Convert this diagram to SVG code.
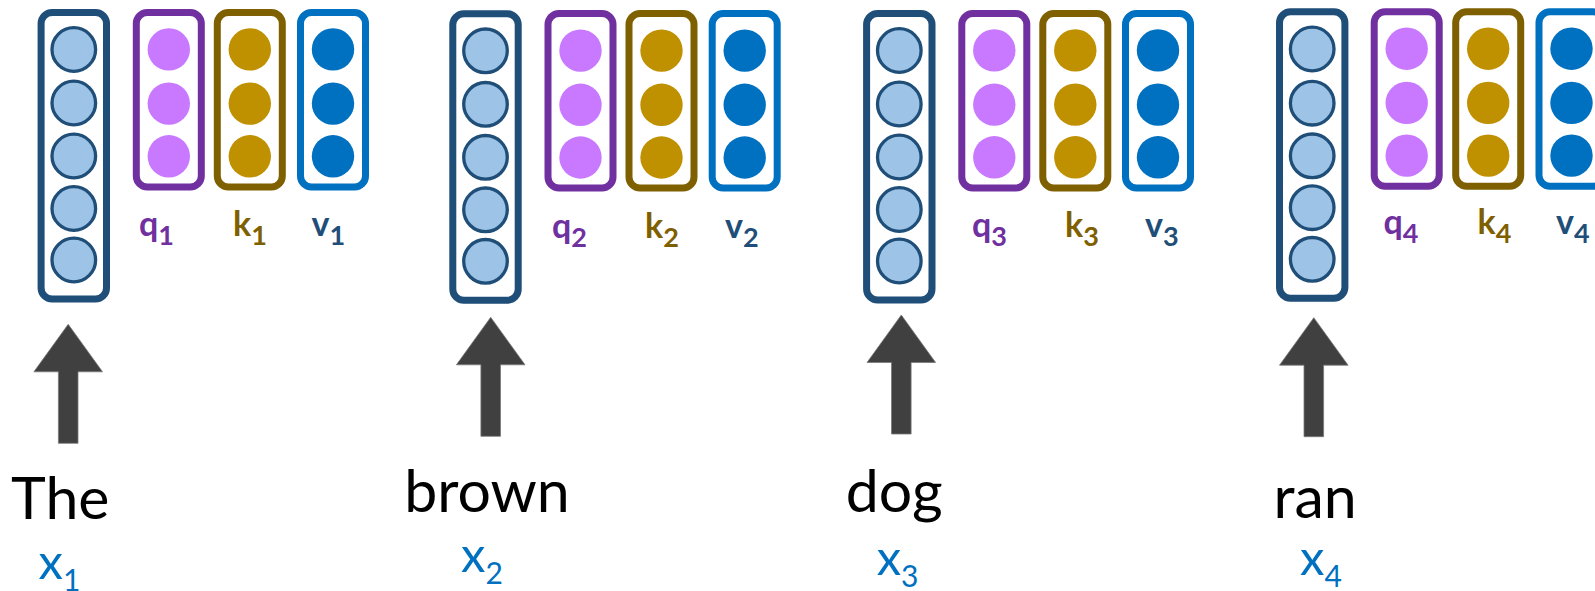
<svg xmlns="http://www.w3.org/2000/svg" width="1595" height="591" viewBox="0 0 1595 591">
  <style>
    .emb-box { fill: #ffffff; stroke: #1F4E79; stroke-width: 7; }
    .emb-dot { fill: #9DC3E6; stroke: #1F4E79; stroke-width: 3.3; }
    .q-box { fill: #ffffff; stroke: #7030A0; stroke-width: 7; }
    .k-box { fill: #ffffff; stroke: #7F6000; stroke-width: 7; }
    .v-box { fill: #ffffff; stroke: #0070C0; stroke-width: 7; }
    .q-dot { fill: #C879FF; }
    .k-dot { fill: #BF9000; }
    .v-dot { fill: #0070C0; }
    .lbl { font-family: Lato, "Open Sans", "Liberation Sans", sans-serif; font-weight: bold; font-size: 34px; }
    .lbl .sub { font-size: 27px; }
    .q-lbl { fill: #7030A0; }
    .k-lbl { fill: #7F6000; }
    .v-lbl { fill: #1F4E79; }
    .word { font-family: Lato, "Open Sans", "Liberation Sans", sans-serif; font-size: 59px; fill: #000000; text-anchor: middle; }
    .xin { font-family: Lato, "Open Sans", "Liberation Sans", sans-serif; font-size: 49px; fill: #0070C0; }
    .xin .sub { font-size: 30px; }
    .up { fill: #404040; stroke: #7a7a7a; stroke-width: 0.8; }
  </style>

  <!-- token 1: "The" -->
  <g id="emb-1">
    <rect class="emb-box" x="41.1" y="12.5" width="65.4" height="286.5" rx="11"/>
    <circle class="emb-dot" cx="73.8" cy="49.5" r="21.8"/>
    <circle class="emb-dot" cx="73.8" cy="103" r="21.8"/>
    <circle class="emb-dot" cx="73.8" cy="156" r="21.8"/>
    <circle class="emb-dot" cx="73.8" cy="208.5" r="21.8"/>
    <circle class="emb-dot" cx="73.8" cy="260" r="21.8"/>
  </g>
  <g id="q-1">
    <rect class="q-box" x="136.3" y="12.5" width="65" height="174.5" rx="11"/>
    <circle class="q-dot" cx="168.8" cy="49.4" r="21.2"/>
    <circle class="q-dot" cx="168.8" cy="103.6" r="21.2"/>
    <circle class="q-dot" cx="168.8" cy="156.3" r="21.2"/>
    <text class="lbl q-lbl" x="139" y="235.7">q<tspan class="sub" dy="9.5">1</tspan></text>
  </g>
  <g id="k-1">
    <rect class="k-box" x="217.3" y="12.5" width="65" height="174.5" rx="11"/>
    <circle class="k-dot" cx="249.8" cy="49.4" r="21.2"/>
    <circle class="k-dot" cx="249.8" cy="103.6" r="21.2"/>
    <circle class="k-dot" cx="249.8" cy="156.3" r="21.2"/>
    <text class="lbl k-lbl" x="233" y="235.7">k<tspan class="sub" dy="9.5">1</tspan></text>
  </g>
  <g id="v-1">
    <rect class="v-box" x="300.5" y="12.5" width="65" height="174.5" rx="11"/>
    <circle class="v-dot" cx="333" cy="49.4" r="21.2"/>
    <circle class="v-dot" cx="333" cy="103.6" r="21.2"/>
    <circle class="v-dot" cx="333" cy="156.3" r="21.2"/>
    <text class="lbl v-lbl" x="311.5" y="235.7">v<tspan class="sub" dy="9.5">1</tspan></text>
  </g>
  <g id="word-1">
    <text class="word" x="60.3" y="518.5">The</text>
    <text class="xin" x="38.5" y="579">x<tspan class="sub" dy="11.5">1</tspan></text>
  </g>

  <!-- token 2: "brown" -->
  <g id="emb-2">
    <rect class="emb-box" x="452.8" y="13.8" width="65.4" height="286.5" rx="11"/>
    <circle class="emb-dot" cx="485.5" cy="50.8" r="21.8"/>
    <circle class="emb-dot" cx="485.5" cy="104.3" r="21.8"/>
    <circle class="emb-dot" cx="485.5" cy="157.3" r="21.8"/>
    <circle class="emb-dot" cx="485.5" cy="209.8" r="21.8"/>
    <circle class="emb-dot" cx="485.5" cy="261.3" r="21.8"/>
  </g>
  <g id="q-2">
    <rect class="q-box" x="548" y="13.5" width="65" height="174.5" rx="11"/>
    <circle class="q-dot" cx="580.5" cy="50.6" r="21.2"/>
    <circle class="q-dot" cx="580.5" cy="104.8" r="21.2"/>
    <circle class="q-dot" cx="580.5" cy="157.5" r="21.2"/>
    <text class="lbl q-lbl" x="552" y="237.5">q<tspan class="sub" dy="9.5">2</tspan></text>
  </g>
  <g id="k-2">
    <rect class="k-box" x="629" y="13.5" width="65" height="174.5" rx="11"/>
    <circle class="k-dot" cx="661.5" cy="50.6" r="21.2"/>
    <circle class="k-dot" cx="661.5" cy="104.8" r="21.2"/>
    <circle class="k-dot" cx="661.5" cy="157.5" r="21.2"/>
    <text class="lbl k-lbl" x="645" y="237.5">k<tspan class="sub" dy="9.5">2</tspan></text>
  </g>
  <g id="v-2">
    <rect class="v-box" x="712.2" y="13.5" width="65" height="174.5" rx="11"/>
    <circle class="v-dot" cx="744.7" cy="50.6" r="21.2"/>
    <circle class="v-dot" cx="744.7" cy="104.8" r="21.2"/>
    <circle class="v-dot" cx="744.7" cy="157.5" r="21.2"/>
    <text class="lbl v-lbl" x="725" y="237.5">v<tspan class="sub" dy="9.5">2</tspan></text>
  </g>
  <g id="word-2">
    <text class="word" x="487" y="512.3">brown</text>
    <text class="xin" x="461" y="571.7">x<tspan class="sub" dy="12.3">2</tspan></text>
  </g>

  <!-- token 3: "dog" -->
  <g id="emb-3">
    <rect class="emb-box" x="866.6" y="13.5" width="65.4" height="286.5" rx="11"/>
    <circle class="emb-dot" cx="899.3" cy="50.5" r="21.8"/>
    <circle class="emb-dot" cx="899.3" cy="104" r="21.8"/>
    <circle class="emb-dot" cx="899.3" cy="157" r="21.8"/>
    <circle class="emb-dot" cx="899.3" cy="209.5" r="21.8"/>
    <circle class="emb-dot" cx="899.3" cy="261" r="21.8"/>
  </g>
  <g id="q-3">
    <rect class="q-box" x="961.8" y="13.5" width="65" height="174.5" rx="11"/>
    <circle class="q-dot" cx="994.3" cy="50.4" r="21.2"/>
    <circle class="q-dot" cx="994.3" cy="104.6" r="21.2"/>
    <circle class="q-dot" cx="994.3" cy="157.3" r="21.2"/>
    <text class="lbl q-lbl" x="972" y="236.5">q<tspan class="sub" dy="9.5">3</tspan></text>
  </g>
  <g id="k-3">
    <rect class="k-box" x="1042.8" y="13.5" width="65" height="174.5" rx="11"/>
    <circle class="k-dot" cx="1075.3" cy="50.4" r="21.2"/>
    <circle class="k-dot" cx="1075.3" cy="104.6" r="21.2"/>
    <circle class="k-dot" cx="1075.3" cy="157.3" r="21.2"/>
    <text class="lbl k-lbl" x="1065" y="236.5">k<tspan class="sub" dy="9.5">3</tspan></text>
  </g>
  <g id="v-3">
    <rect class="v-box" x="1125.5" y="13.5" width="65" height="174.5" rx="11"/>
    <circle class="v-dot" cx="1158" cy="50.4" r="21.2"/>
    <circle class="v-dot" cx="1158" cy="104.6" r="21.2"/>
    <circle class="v-dot" cx="1158" cy="157.3" r="21.2"/>
    <text class="lbl v-lbl" x="1145" y="236.5">v<tspan class="sub" dy="9.5">3</tspan></text>
  </g>
  <g id="word-3">
    <text class="word" x="894.2" y="512.3">dog</text>
    <text class="xin" x="876.7" y="575">x<tspan class="sub" dy="12.3">3</tspan></text>
  </g>

  <!-- token 4: "ran" (value column runs off the right edge) -->
  <g id="emb-4">
    <rect class="emb-box" x="1279.5" y="11.8" width="65.4" height="286.5" rx="11"/>
    <circle class="emb-dot" cx="1312.2" cy="49" r="21.8"/>
    <circle class="emb-dot" cx="1312.2" cy="103.2" r="21.8"/>
    <circle class="emb-dot" cx="1312.2" cy="155.8" r="21.8"/>
    <circle class="emb-dot" cx="1312.2" cy="207.7" r="21.8"/>
    <circle class="emb-dot" cx="1312.2" cy="259.3" r="21.8"/>
  </g>
  <g id="q-4">
    <rect class="q-box" x="1374.2" y="11.8" width="65" height="174.5" rx="11"/>
    <circle class="q-dot" cx="1406.7" cy="48.7" r="21.2"/>
    <circle class="q-dot" cx="1406.7" cy="102.9" r="21.2"/>
    <circle class="q-dot" cx="1406.7" cy="155.6" r="21.2"/>
    <text class="lbl q-lbl" x="1383.5" y="234">q<tspan class="sub" dy="9">4</tspan></text>
  </g>
  <g id="k-4">
    <rect class="k-box" x="1455.7" y="11.8" width="65" height="174.5" rx="11"/>
    <circle class="k-dot" cx="1488.2" cy="48.7" r="21.2"/>
    <circle class="k-dot" cx="1488.2" cy="102.9" r="21.2"/>
    <circle class="k-dot" cx="1488.2" cy="155.6" r="21.2"/>
    <text class="lbl k-lbl" x="1477.5" y="234">k<tspan class="sub" dy="9">4</tspan></text>
  </g>
  <g id="v-4">
    <rect class="v-box" x="1539" y="11.8" width="65" height="174.5" rx="11"/>
    <circle class="v-dot" cx="1571.5" cy="48.7" r="21.2"/>
    <circle class="v-dot" cx="1571.5" cy="102.9" r="21.2"/>
    <circle class="v-dot" cx="1571.5" cy="155.6" r="21.2"/>
    <text class="lbl v-lbl" x="1556" y="234">v<tspan class="sub" dy="9">4</tspan></text>
  </g>
  <g id="word-4">
    <text class="word" x="1315" y="518.3">ran</text>
    <text class="xin" x="1300" y="575">x<tspan class="sub" dy="12.3">4</tspan></text>
  </g>

  <!-- block arrows from each word up into its embedding -->
  <g id="connectors">
    <polygon class="up" points="68.2,324.3 102.5,371.8 78,371.8 78,443.3 58.4,443.3 58.4,371.8 33.9,371.8"/>
    <polygon class="up" points="490.7,317.3 525,364.8 500.5,364.8 500.5,436.3 480.9,436.3 480.9,364.8 456.4,364.8"/>
    <polygon class="up" points="901.3,315 935.6,362.5 911.1,362.5 911.1,434 891.5,434 891.5,362.5 867,362.5"/>
    <polygon class="up" points="1313.8,317.7 1348.1,365.2 1323.6,365.2 1323.6,436.7 1304,436.7 1304,365.2 1279.5,365.2"/>
  </g>
</svg>
